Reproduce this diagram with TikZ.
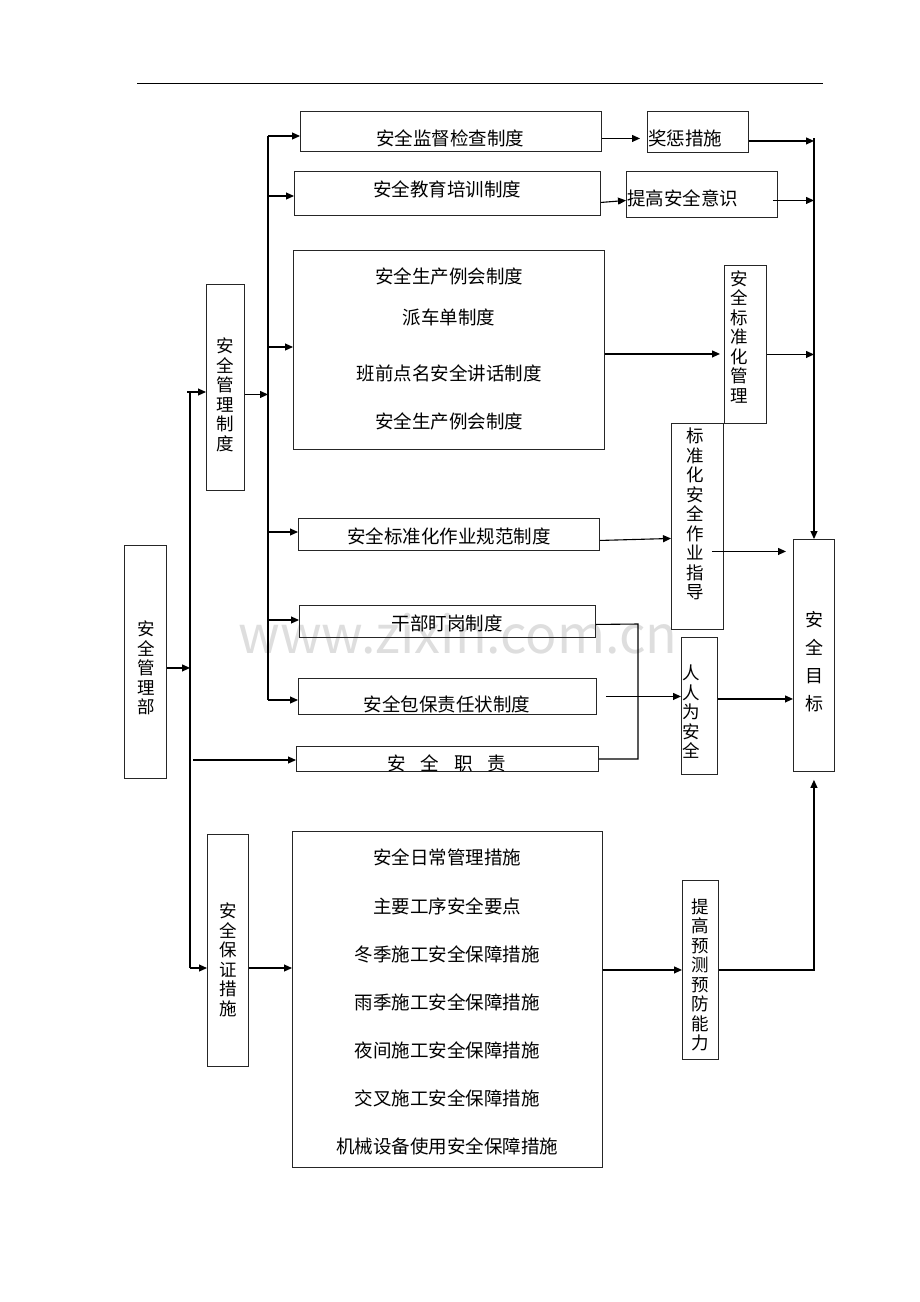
\documentclass[tikz,border=0pt]{standalone}
\usepackage{fontspec}
\setmainfont{Noto Sans CJK SC}
\usetikzlibrary{arrows.meta}

\begin{document}
\begin{tikzpicture}[x=1pt,y=-1pt,
		box/.style={draw=black!85,line width=0.9pt,anchor=north west,inner sep=0pt},
		txt/.style={inner sep=0pt,font=\fontsize{18.5}{20}\selectfont},
		vtxt/.style={inner sep=0pt,align=center,font=\fontsize{17.5}{19.5}\selectfont},
		arr/.style={line width=1.1pt,-{Triangle[length=8pt,width=7pt]}},
		ln/.style={line width=1.1pt}]
			\useasboundingbox (0,0) rectangle (920,1302);
			\node[text=black!13,font=\fontsize{52}{52}\selectfont] (wm) at (458,634) {www.zixin.com.cn};
			\draw[line width=1pt] (137,83) -- (823,83);
			
			% boxes
			\node[box,minimum width=301,minimum height=40] (jiandu) at (300,111) {};
			\node[box,minimum width=101,minimum height=41] (jiangcheng) at (647,111) {};
			\node[box,minimum width=306,minimum height=44] (jiaoyu) at (294,171) {};
			\node[box,minimum width=151,minimum height=46] (yishi) at (626,171) {};
			\node[box,minimum width=311,minimum height=199] (lihui) at (293,250) {};
			\node[box,minimum width=42,minimum height=158] (bzgl) at (724,265) {};
			\node[box,minimum width=52,minimum height=206] (zydd) at (671,423) {};
			\node[box,minimum width=38,minimum height=206] (zhidu) at (206,284) {};
			\node[box,minimum width=301,minimum height=32] (guifan) at (298,518) {};
			\node[box,minimum width=296,minimum height=32] (dinggang) at (299,605) {};
			\node[box,minimum width=298,minimum height=36] (baobao) at (298,678) {};
			\node[box,minimum width=302,minimum height=25] (zhize) at (296,746) {};
			\node[box,minimum width=36,minimum height=137] (renren) at (681,637) {};
			\node[box,minimum width=41,minimum height=232] (mubiao) at (793,539) {};
			\node[box,minimum width=42,minimum height=233] (bu) at (124,545) {};
			\node[box,minimum width=41,minimum height=232] (baozheng) at (207,834) {};
			\node[box,minimum width=310,minimum height=336] (cuoshi) at (292,831) {};
			\node[box,minimum width=36,minimum height=179] (yufang) at (682,880) {};
			
			% texts
			\node[txt] (jiandu-t) at (450,138) {安全监督检查制度};
			\node[txt,anchor=west] (jiangcheng-t) at (648,138) {奖惩措施};
			\node[txt] (jiaoyu-t) at (447,189) {安全教育培训制度};
			\node[txt,anchor=west] (yishi-t) at (627,198) {提高安全意识};
			\node[txt] (lihui-t1) at (449,276) {安全生产例会制度};
			\node[txt] (lihui-t2) at (449,317) {派车单制度};
			\node[txt] (lihui-t3) at (449,373) {班前点名安全讲话制度};
			\node[txt] (lihui-t4) at (449,421) {安全生产例会制度};
			\node[txt] (guifan-t) at (449,536) {安全标准化作业规范制度};
			\node[txt] (dinggang-t) at (447,623) {干部盯岗制度};
			\node[txt] (baobao-t) at (447,704) {安全包保责任状制度};
			\node[txt] (zhize-t) at (447,763) {安\hspace{15pt}全\hspace{15pt}职\hspace{15pt}责};
			\node[txt] (cuoshi-t1) at (447,857) {安全日常管理措施};
			\node[txt] (cuoshi-t2) at (447,906) {主要工序安全要点};
			\node[txt] (cuoshi-t3) at (447,954) {冬季施工安全保障措施};
			\node[txt] (cuoshi-t4) at (447,1002) {雨季施工安全保障措施};
			\node[txt] (cuoshi-t5) at (447,1050) {夜间施工安全保障措施};
			\node[txt] (cuoshi-t6) at (447,1098) {交叉施工安全保障措施};
			\node[txt] (cuoshi-t7) at (447,1146) {机械设备使用安全保障措施};
			\node[vtxt] (bu-t) at (146,668) {安\\全\\管\\理\\部};
			\node[vtxt] (zhidu-t) at (225,395) {安\\全\\管\\理\\制\\度};
			\node[vtxt] (baozheng-t) at (228,960) {安\\全\\保\\证\\措\\施};
			\node[vtxt] (bzgl-t) at (739,337) {安\\全\\标\\准\\化\\管\\理};
			\node[vtxt] (zydd-t) at (695,514) {标\\准\\化\\安\\全\\作\\业\\指\\导};
			\node[vtxt] (renren-t) at (691,712) {人\\人\\为\\安\\全};
			\node[vtxt] (yufang-t) at (700,975) {提\\高\\预\\测\\预\\防\\能\\力};
			\node[vtxt,font=\fontsize{18}{28}\selectfont] (mubiao-t) at (814,662) {安\\全\\目\\标};
			
			% trunks
			\coordinate (tA) at (190,392);
			\coordinate (tB) at (190,968);
			\coordinate (tC) at (193,760);
			\coordinate (s1) at (268,136);
			\coordinate (s2) at (268,196);
			\coordinate (s3) at (268,347);
			\coordinate (s4) at (268,532);
			\coordinate (s5) at (268,620);
			\coordinate (s6) at (268,700);
			\coordinate (rA) at (814,138);
			\coordinate (jA) at (638,624);
			\draw[ln] (tA) -- (tB);
			\draw[ln] (s1) -- (s6);
			
			% connectors
			\draw[arr] ([yshift=-6pt]bu.east) -- ([yshift=-6pt]bu.east -| tA);
			\draw[arr] ([xshift=-3pt]tA) -- (tA -| zhidu.west);
			\draw[arr] (tB) -- (tB -| baozheng.west);
			\draw[arr] (tC) -- (tC -| zhize.west);
			\draw[arr] ([yshift=-7pt]zhidu.east) -- ([yshift=-7pt]zhidu.east -| s1);
			\draw[arr] (s1) -- (s1 -| jiandu.west);
			\draw[arr] (s2) -- (s2 -| jiaoyu.west);
			\draw[arr] (s3) -- (s3 -| lihui.west);
			\draw[arr] (s4) -- (s4 -| guifan.west);
			\draw[arr] (s5) -- (s5 -| dinggang.west);
			\draw[arr] (s6) -- (s6 -| baobao.west);
			\draw[arr,shorten >=7pt] ([yshift=-7pt]jiandu.east) -- ([yshift=-7pt]jiandu.east -| jiangcheng.west);
			\draw[arr] ([yshift=-9pt]jiaoyu.east) -- ([yshift=-6pt]yishi.west);
			\draw[arr,shorten >=4pt] ([yshift=-4pt]lihui.east) -- ([yshift=-4pt]lihui.east -| bzgl.west);
			\draw[arr] ([yshift=-6pt]guifan.east) -- ([yshift=-12pt]zydd.west);
			\draw[arr] (rA) -- (rA |- mubiao.north);
			\draw[arr] ([yshift=-9pt]jiangcheng.east) -- ([yshift=-9pt]jiangcheng.east -| rA);
			\draw[arr] ([xshift=-5pt,yshift=-6pt]yishi.east) -- ([yshift=-6pt]yishi.east -| rA);
			\draw[arr] ([yshift=-10pt]bzgl.east) -- ([yshift=-10pt]bzgl.east -| rA);
			\draw[arr,shorten >=7pt] ([xshift=-12pt,yshift=-25pt]zydd.east) -- ([yshift=-25pt]zydd.east -| mubiao.west);
			\draw[ln] ([yshift=-3pt]dinggang.east) -- (jA) -- (jA |- zhize.east) -- (zhize.east);
			\draw[ln] ([xshift=9pt]baobao.east) -- ([xshift=45pt]baobao.east);
			\draw[arr] (jA |- baobao.east) -- (baobao.east -| renren.west);
			\draw[arr] ([yshift=7pt]renren.east) -- ([yshift=7pt]renren.east -| mubiao.west);
			\draw[arr] (tB -| baozheng.east) -- (tB -| cuoshi.west);
			\draw[arr] (yufang.west -| cuoshi.east) -- (yufang.west);
			\draw[arr] (yufang.east) -| ([yshift=-8pt]mubiao.south);
		\end{tikzpicture}
\end{document}
